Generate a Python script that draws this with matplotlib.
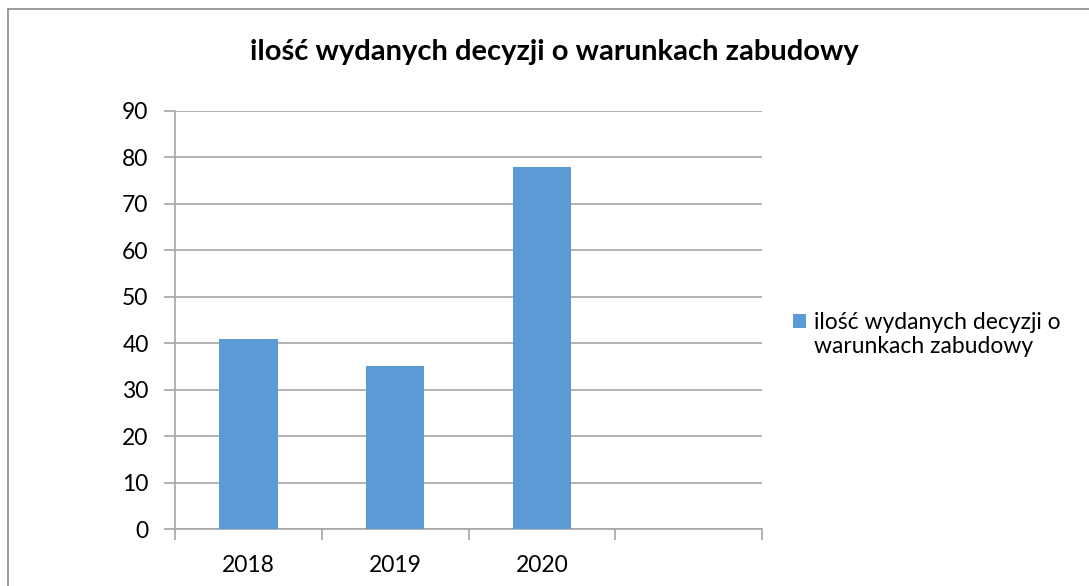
import matplotlib.pyplot as plt
from matplotlib.lines import Line2D

plt.rcParams['font.family'] = ['Lato', 'DejaVu Sans']

categories = ['2018', '2019', '2020', '']
values = [41, 35, 78, None]
series_name = 'ilość wydanych decyzji o\nwarunkach zabudowy'
title = 'ilość wydanych decyzji o warunkach zabudowy'
yticks = [0, 10, 20, 30, 40, 50, 60, 70, 80, 90]

W, H = 1089, 586
fig = plt.figure(figsize=(W / 100, H / 100), dpi=100)
ax = fig.add_axes([175 / W, 1 - 529 / H, (762 - 175) / W, (529 - 111) / H])

bar_color = '#5b9bd5'
grid_color = '#a6a6a6'

xs = [i for i, v in enumerate(values) if v is not None]
ax.bar(xs, [values[i] for i in xs], width=0.4, color=bar_color, zorder=3,
       label=series_name)

ax.set_xlim(-0.5, len(categories) - 0.5)
ax.set_ylim(0, 90)
ax.set_yticks(yticks)
ax.yaxis.grid(True, color=grid_color, linewidth=1.2, zorder=0)

# kategorie: znaczniki na granicach, etykiety na środku
ax.set_xticks([i - 0.5 for i in range(len(categories) + 1)])
ax.set_xticklabels([])
ax.set_xticks(range(len(categories)), minor=True)
ax.set_xticklabels(categories, minor=True)
ax.tick_params(axis='x', which='major', length=8, color=grid_color, width=1.2)
ax.tick_params(axis='x', which='minor', length=0, pad=19, labelsize=16.5)
ax.tick_params(axis='y', length=8, color=grid_color, width=1.2, labelsize=16.5, pad=11)

for s in ['top', 'right']:
    ax.spines[s].set_visible(False)
for s in ['left', 'bottom']:
    ax.spines[s].set_color(grid_color)
    ax.spines[s].set_linewidth(1.2)

fig.text(554 / W, 1 - 52 / H, title, ha='center', va='center',
         fontsize=21, fontweight='bold')

leg = fig.legend(loc='upper left', bbox_to_anchor=(772 / W, 1 - 291 / H),
                 frameon=False, fontsize=16.5, handlelength=0.6, handleheight=0.6,
                 handletextpad=0.35, labelspacing=0.3)
# kwadrat legendy na wysokości pierwszej linii
h = leg.legend_handles[0]
h.set_y(h.get_y() + 10)

# ramka wykresu
fig.add_artist(Line2D([8 / W, 1], [1 - 9 / H, 1 - 9 / H], color='#8c8c8c', lw=1.2))
fig.add_artist(Line2D([8 / W, 8 / W], [0, 1 - 9 / H], color='#8c8c8c', lw=1.2))

fig.savefig('out.png', dpi=100)
